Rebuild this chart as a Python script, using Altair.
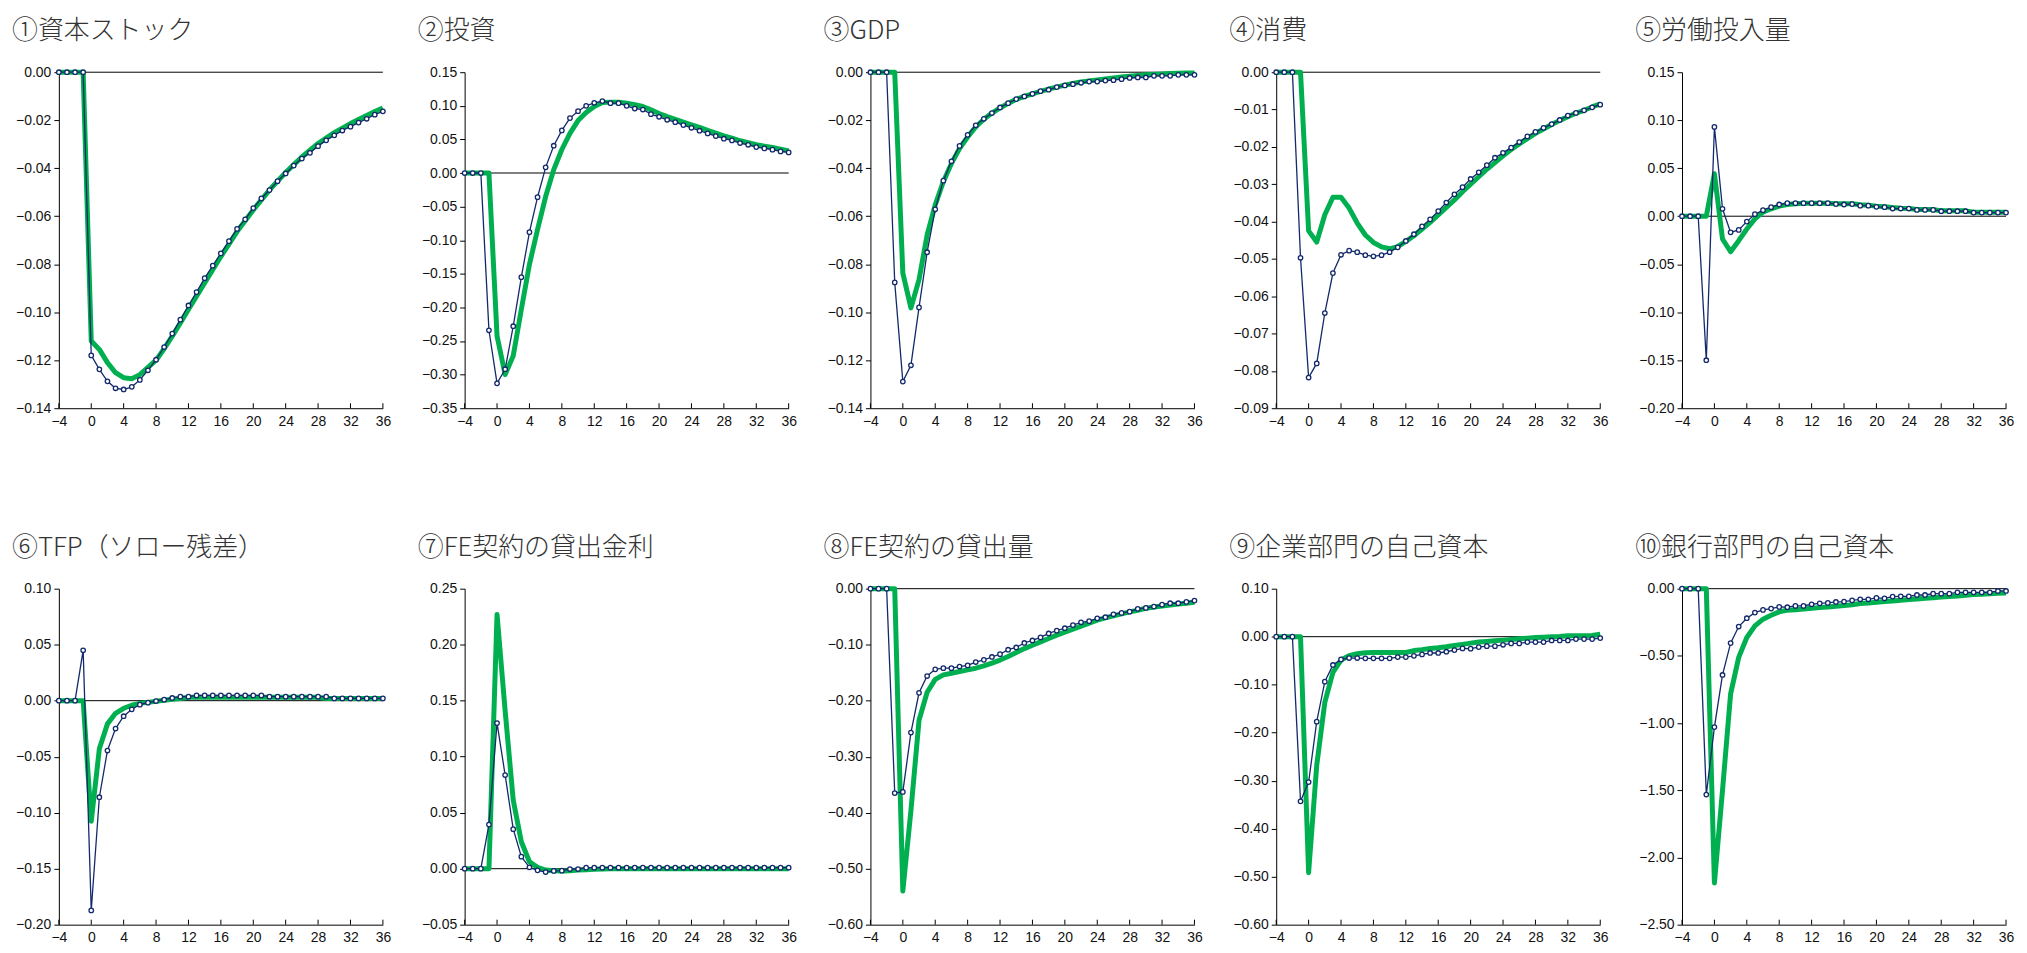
import altair as alt
import pandas as pd

# ---- data ----
periods = list(range(-4, 37))
x_ticks = list(range(-4, 37, 4))

titles = [
    "①資本ストック", "②投資", "③GDP", "④消費", "⑤労働投入量",
    "⑥TFP（ソロー残差）", "⑦FE契約の貸出金利", "⑧FE契約の貸出量",
    "⑨企業部門の自己資本", "⑩銀行部門の自己資本",
]

navy_1 = [0, 0, 0, 0, -0.118, -0.1238, -0.1288, -0.1317, -0.1322, -0.1311, -0.1282, -0.1242, -0.1198, -0.1145,
          -0.1089, -0.1031, -0.0972, -0.0916, -0.0858, -0.0806, -0.0755, -0.0704, -0.0653, -0.0613, -0.0566,
          -0.0526, -0.0491, -0.0454, -0.0422, -0.0389, -0.0360, -0.0336, -0.0308, -0.0284, -0.0263, -0.0243,
          -0.0227, -0.0210, -0.0194, -0.0177, -0.0163]
green_1 = [0, 0, 0, 0, -0.112, -0.1155, -0.121, -0.1252, -0.1273, -0.1277, -0.126, -0.123, -0.120, -0.1152,
           -0.110, -0.1045, -0.0989, -0.0933, -0.0878, -0.0823, -0.0768, -0.0716, -0.0664, -0.0619, -0.0574,
           -0.0532, -0.0491, -0.0454, -0.0418, -0.0385, -0.0353, -0.0325, -0.0297, -0.0274, -0.0252, -0.0233,
           -0.0214, -0.0197, -0.018, -0.0164, -0.0149]

navy_2 = [0, 0, 0, -0.234, -0.313, -0.292, -0.228, -0.155, -0.088, -0.036, 0.0084, 0.0406, 0.0634, 0.0817,
          0.092, 0.100, 0.1045, 0.107, 0.104, 0.104, 0.100, 0.096, 0.0945, 0.0876, 0.0837, 0.0792, 0.0757,
          0.0713, 0.0673, 0.0629, 0.0589, 0.055, 0.051, 0.0485, 0.0446, 0.042, 0.0386, 0.0366, 0.0347, 0.0322,
          0.0307]
green_2 = [0, 0, 0, 0, -0.2425, -0.300, -0.272, -0.203, -0.136, -0.084, -0.035, 0.005, 0.035, 0.059, 0.078,
           0.090, 0.099, 0.105, 0.1055, 0.1055, 0.104, 0.1015, 0.099, 0.094, 0.0886, 0.084, 0.080, 0.0757,
           0.0718, 0.0678, 0.0634, 0.0594, 0.0554, 0.052, 0.048, 0.045, 0.042, 0.040, 0.038, 0.0356, 0.033]

navy_3 = [0, 0, 0, -0.0876, -0.1289, -0.1221, -0.098, -0.075, -0.0571, -0.0452, -0.0371, -0.0307, -0.0261,
          -0.0221, -0.0194, -0.017, -0.0147, -0.0129, -0.0112, -0.0101, -0.009, -0.0079, -0.0073, -0.0062,
          -0.0055, -0.005, -0.0044, -0.0039, -0.0039, -0.0035, -0.0033, -0.0029, -0.0024, -0.0022, -0.0022,
          -0.0015, -0.0015, -0.0015, -0.0011, -0.0011, -0.0011]
green_3 = [0, 0, 0, 0, -0.0837, -0.0982, -0.0864, -0.0678, -0.0553, -0.0456, -0.038, -0.0318, -0.027, -0.0228,
           -0.0196, -0.017, -0.0149, -0.013, -0.0113, -0.0101, -0.009, -0.008, -0.007, -0.0062, -0.0054, -0.0047,
           -0.0041, -0.0036, -0.0032, -0.0028, -0.0024, -0.002, -0.0017, -0.0014, -0.0011, -0.0009, -0.0007,
           -0.0005, -0.0004, -0.0003, -0.0003]

navy_4 = [0, 0, 0, -0.0497, -0.0818, -0.078, -0.0645, -0.0538, -0.0489, -0.0478, -0.0482, -0.049, -0.0493,
          -0.049, -0.0482, -0.0469, -0.0452, -0.0434, -0.0413, -0.0394, -0.0372, -0.0349, -0.0327, -0.0308,
          -0.0286, -0.0268, -0.0249, -0.0229, -0.0216, -0.0202, -0.0187, -0.0172, -0.016, -0.0149, -0.0139,
          -0.0128, -0.0116, -0.0109, -0.0102, -0.0094, -0.0087]
green_4 = [0, 0, 0, 0, -0.0425, -0.0455, -0.0382, -0.0335, -0.0335, -0.0364, -0.0404, -0.0436, -0.0456, -0.0468,
           -0.0473, -0.0467, -0.0453, -0.0438, -0.042, -0.0402, -0.0382, -0.0362, -0.0342, -0.032, -0.030, -0.028,
           -0.026, -0.0242, -0.0224, -0.0207, -0.0192, -0.0178, -0.0164, -0.0152, -0.014, -0.0129, -0.0119,
           -0.011, -0.0102, -0.0093, -0.0085]

navy_5 = [0, 0, 0, -0.150, 0.093, 0.0077, -0.0168, -0.0143, -0.0056, 0.0021, 0.0063, 0.0094, 0.0122, 0.0136,
          0.0136, 0.0136, 0.0136, 0.0136, 0.0136, 0.0126, 0.0122, 0.0126, 0.011, 0.011, 0.0098, 0.0094, 0.008,
          0.008, 0.008, 0.0066, 0.0066, 0.0066, 0.0052, 0.0052, 0.0052, 0.0052, 0.0038, 0.0038, 0.0038, 0.0038,
          0.0038]
green_5 = [0, 0, 0, 0, 0.0443, -0.0237, -0.037, -0.0255, -0.0133, -0.0028, 0.0042, 0.0077, 0.0105, 0.0122,
           0.0129, 0.0136, 0.0136, 0.0136, 0.0136, 0.013, 0.013, 0.013, 0.0119, 0.0115, 0.0105, 0.0098, 0.009,
           0.0084, 0.008, 0.007, 0.007, 0.007, 0.0056, 0.0056, 0.0056, 0.0056, 0.0042, 0.0042, 0.0042, 0.0042,
           0.0042]

navy_6 = [0, 0, 0, 0.045, -0.1873, -0.0862, -0.0445, -0.0249, -0.0139, -0.0077, -0.0036, -0.0018, -0.0003,
          0.0009, 0.0024, 0.0036, 0.0036, 0.0047, 0.0047, 0.0047, 0.0047, 0.0047, 0.0047, 0.0047, 0.0047, 0.0047,
          0.0036, 0.0036, 0.0036, 0.0036, 0.0036, 0.0036, 0.0036, 0.0036, 0.002, 0.002, 0.002, 0.002, 0.002,
          0.002, 0.002]
green_6 = [0, 0, 0, 0, -0.1076, -0.043, -0.0207, -0.0113, -0.0068, -0.0041, -0.0024, -0.0015, -0.0006, 0.0003,
           0.0012, 0.002, 0.003, 0.003, 0.003, 0.003, 0.003, 0.003, 0.003, 0.003, 0.003, 0.003, 0.003, 0.003,
           0.003, 0.003, 0.003, 0.003, 0.003, 0.002, 0.002, 0.002, 0.002, 0.002, 0.002, 0.002, 0.002]

navy_7 = [0, 0, 0, 0.0394, 0.130, 0.0836, 0.0353, 0.0107, 0.0012, -0.0015, -0.003, -0.002, -0.0018, -0.0003,
          -0.0003, 0.0009, 0.0009, 0.0009, 0.0009, 0.0009, 0.0009, 0.0009, 0.0009, 0.0009, 0.0009, 0.0009,
          0.0009, 0.0009, 0.0009, 0.0009, 0.0009, 0.0009, 0.0009, 0.0009, 0.0009, 0.0009, 0.0009, 0.0009,
          0.0009, 0.0009, 0.0009]
green_7 = [0, 0, 0, 0, 0.227, 0.141, 0.061, 0.024, 0.0062, 0.0012, -0.0012, -0.0018, -0.002, -0.0018, -0.0012,
           -0.0009, -0.0006, -0.0003, 0, 0, 0, 0, 0, 0, 0, 0, 0, 0, 0, 0, 0, 0, 0, 0, 0, 0, 0, 0, 0, 0, 0]

navy_8 = [0, 0, 0, -0.365, -0.363, -0.257, -0.186, -0.156, -0.144, -0.142, -0.142, -0.139, -0.137, -0.131,
          -0.127, -0.122, -0.117, -0.109, -0.105, -0.097, -0.0925, -0.087, -0.080, -0.075, -0.0706, -0.065,
          -0.060, -0.058, -0.053, -0.051, -0.0457, -0.0433, -0.041, -0.036, -0.0344, -0.032, -0.0285, -0.026,
          -0.026, -0.0237, -0.0213]
green_8 = [0, 0, 0, 0, -0.540, -0.396, -0.235, -0.185, -0.162, -0.154, -0.151, -0.148, -0.145, -0.142, -0.138,
           -0.133, -0.1275, -0.121, -0.114, -0.107, -0.101, -0.095, -0.089, -0.083, -0.0777, -0.0723, -0.067,
           -0.0617, -0.0563, -0.052, -0.0486, -0.045, -0.0415, -0.0385, -0.035, -0.0326, -0.0308, -0.029,
           -0.0273, -0.026, -0.0243]

navy_9 = [0, 0, 0, -0.343, -0.303, -0.177, -0.0937, -0.059, -0.0473, -0.0445, -0.0445, -0.0452, -0.0452,
          -0.0452, -0.0452, -0.0425, -0.0425, -0.040, -0.037, -0.034, -0.034, -0.0314, -0.028, -0.0245, -0.025,
          -0.0217, -0.0197, -0.0197, -0.0169, -0.014, -0.014, -0.0113, -0.0113, -0.0113, -0.0079, -0.0079,
          -0.0079, -0.0051, -0.0051, -0.0051, -0.003]
green_9 = [0, 0, 0, 0, -0.4916, -0.268, -0.137, -0.0744, -0.0487, -0.0397, -0.0356, -0.0335, -0.033, -0.033,
           -0.033, -0.033, -0.033, -0.029, -0.027, -0.0245, -0.023, -0.021, -0.0183, -0.016, -0.0134, -0.0113,
           -0.01, -0.0086, -0.0072, -0.0058, -0.0044, -0.003, -0.0017, -0.001, -0.0003, 0.0004, 0.0018, 0.0018,
           0.0018, 0.0025, 0.0053]

navy_10 = [0, 0, 0, -1.532, -1.030, -0.642, -0.405, -0.2816, -0.22, -0.178, -0.158, -0.148, -0.136, -0.138,
           -0.128, -0.128, -0.116, -0.109, -0.106, -0.099, -0.096, -0.0865, -0.079, -0.079, -0.069, -0.072,
           -0.059, -0.057, -0.057, -0.047, -0.047, -0.037, -0.037, -0.037, -0.027, -0.027, -0.027, -0.027,
           -0.027, -0.017, -0.017]
green_10 = [0, 0, 0, 0, -2.19, -1.50, -0.783, -0.511, -0.363, -0.277, -0.227, -0.198, -0.173, -0.16, -0.156,
            -0.151, -0.146, -0.141, -0.136, -0.131, -0.126, -0.119, -0.111, -0.106, -0.101, -0.096, -0.091,
            -0.086, -0.081, -0.077, -0.072, -0.067, -0.062, -0.059, -0.054, -0.049, -0.044, -0.042, -0.037,
            -0.035, -0.032]

y_ticks = [
    [-0.14, -0.12, -0.10, -0.08, -0.06, -0.04, -0.02, 0.00],
    [-0.35, -0.30, -0.25, -0.20, -0.15, -0.10, -0.05, 0.00, 0.05, 0.10, 0.15],
    [-0.14, -0.12, -0.10, -0.08, -0.06, -0.04, -0.02, 0.00],
    [-0.09, -0.08, -0.07, -0.06, -0.05, -0.04, -0.03, -0.02, -0.01, 0.00],
    [-0.20, -0.15, -0.10, -0.05, 0.00, 0.05, 0.10, 0.15],
    [-0.20, -0.15, -0.10, -0.05, 0.00, 0.05, 0.10],
    [-0.05, 0.00, 0.05, 0.10, 0.15, 0.20, 0.25],
    [-0.60, -0.50, -0.40, -0.30, -0.20, -0.10, 0.00],
    [-0.60, -0.50, -0.40, -0.30, -0.20, -0.10, 0.00, 0.10],
    [-2.50, -2.00, -1.50, -1.00, -0.50, 0.00],
]

navies = [navy_1, navy_2, navy_3, navy_4, navy_5, navy_6, navy_7, navy_8, navy_9, navy_10]
greens = [green_1, green_2, green_3, green_4, green_5, green_6, green_7, green_8, green_9, green_10]

# ---- style ----
W, H = 325, 337
GREEN = "#00B050"
NAVY = "#13296B"
LABEL_FONT = "Liberation Sans"
TITLE_FONT = "Noto Sans CJK JP"


def panel(i):
    df = pd.DataFrame({"t": periods, "navy": navies[i], "green": greens[i]})
    ticks = y_ticks[i]
    xs = alt.Scale(domain=[-4, 36], nice=False, zero=False)
    ys = alt.Scale(domain=[ticks[0], ticks[-1]], nice=False, zero=False)
    xax = alt.Axis(values=x_ticks, title=None, tickSize=0, labelPadding=6, domainColor="black",
                   labelFont=LABEL_FONT, labelFontSize=14, labelColor="#111", grid=False,
                   labelFlush=False, labelOverlap=False, labelSeparation=0)
    yax = alt.Axis(values=ticks, format=".2f", title=None, tickSize=5, tickColor="black",
                   domainColor="black", labelFont=LABEL_FONT, labelFontSize=14, labelColor="#111",
                   grid=False, labelPadding=3, minExtent=46, maxExtent=46, labelOverlap=False,
                   labelSeparation=0, labelFlush=False)

    base = alt.Chart(df)
    zero = alt.Chart(pd.DataFrame({"z": [0]})).mark_rule(color="black", strokeWidth=1).encode(
        y=alt.Y("z:Q", scale=ys, axis=yax)
    )
    green = base.mark_line(color=GREEN, strokeWidth=5, strokeJoin="round").encode(
        x=alt.X("t:Q", scale=xs, axis=xax),
        y=alt.Y("green:Q", scale=ys, axis=yax),
    )
    navy = base.mark_line(
        color=NAVY, strokeWidth=1.3,
        point=alt.OverlayMarkDef(filled=True, fill="white", stroke=NAVY, strokeWidth=1.3, size=20),
    ).encode(x=alt.X("t:Q", scale=xs, axis=xax), y=alt.Y("navy:Q", scale=ys, axis=yax))
    xt = alt.Chart(pd.DataFrame({"tk": x_ticks})).mark_rule(color="black", strokeWidth=1).encode(
        x=alt.X("tk:Q", scale=xs, axis=xax), y=alt.value(H), y2=alt.value(H - 5)
    )
    return alt.layer(zero, green, navy, xt).properties(
        width=W, height=H,
        title=alt.TitleParams(titles[i], anchor="start", frame="group", dx=-47, offset=21,
                              font=TITLE_FONT, fontSize=26, fontWeight=300, color="#333"),
    )


chart = alt.concat(
    *[panel(i) for i in range(10)], columns=5, spacing={"row": 181, "column": 82},
    bounds="flush", padding={"left": 4, "top": 9, "right": 5, "bottom": 5},
).configure_view(stroke=None).configure_axis(labelOverlap=False)

chart.save("out.html", embed_options={"renderer": "svg", "actions": False})
